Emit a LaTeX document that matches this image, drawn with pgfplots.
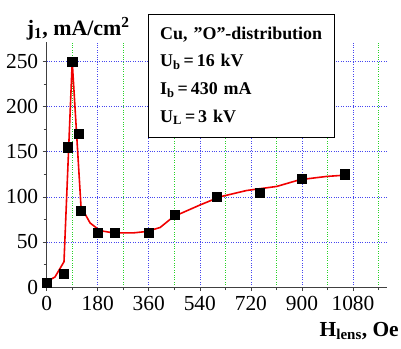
\documentclass[border=0pt]{standalone}
\usepackage{fontspec}
\setmainfont{Liberation Serif}
\usepackage{pgfplots}
\pgfplotsset{compat=1.18}
\definecolor{gridblue}{RGB}{70,70,240}
\definecolor{gridgreen}{RGB}{40,210,40}
\definecolor{curvered}{RGB}{240,0,0}
\begin{document}
\begin{tikzpicture}
\useasboundingbox (-46.7bp,-62bp) rectangle (354.3bp,287bp);
\begin{axis}[
  scale only axis,
  width=340.3bp, height=245.3bp,
  at={(0,0)}, anchor=south west,
  xmin=0, xmax=1200, ymin=0, ymax=272,
  axis lines=left,
  axis line style={-, line width=0.8pt, black!75},
  xtick={0,180,360,540,720,900,1080},
  minor xtick={90,270,450,630,810,990,1170},
  ytick={0,50,100,150,200,250},
  minor ytick={25,75,125,175,225},
  tick align=outside,
  major tick length=4bp, minor tick length=3bp,
  tick style={black!75, line width=0.6pt},
  xmajorgrids, ymajorgrids, xminorgrids,
  major grid style={gridblue, dotted, line width=0.6pt},
  minor x grid style={gridgreen, dotted, line width=0.6pt},
  /pgf/number format/assume math mode=true,
  /pgf/number format/1000 sep={},
  ticklabel style={font=\fontsize{21.5}{21.5}\selectfont},
  yticklabel style={xshift=-1bp},
  xticklabel style={yshift=-2bp},
  clip=false,
]
\addplot[curvered, line width=1.6pt, no marks] coordinates {
 (0,6) (29,11) (61,28) (90,250) (121,89) (153,71) (188,62.5) (235,60)
 (305,60) (352,61.5) (400,66) (447,78) (541,91) (611,100) (705,107)
 (811,111.5) (893,119) (987,122.6) (1051,124)
};
\addplot[only marks, mark=square*, mark size=4.6bp, mark options={fill=black, draw=black}] coordinates {
 (0,5) (60,15) (75,155) (90,250) (112,170) (120,85) (180,60) (240,60)
 (360,60) (450,80) (600,100) (750,105) (900,120) (1050,125)
};
\node[anchor=base west, font=\fontsize{22}{22}\selectfont\bfseries, inner sep=0pt]
  at (axis description cs:-0.0588,1.027) {j\textsubscript{1}, mA/cm\textsuperscript{2}};
\node[anchor=base east, font=\fontsize{21.5}{21.5}\selectfont\bfseries, inner sep=0pt]
  at (axis description cs:1.035,-0.2026) {H\textsubscript{lens}, Oe};
\node[anchor=north west, draw=black, line width=0.8pt, fill=white,
  minimum width=186bp, minimum height=122.4bp, text width=163bp,
  inner xsep=11.5bp, align=left,
  font=\fontsize{18}{27.8}\selectfont\bfseries]
  at (axis description cs:0.2986,1.1117)
  {Cu, \symbol{34}O\symbol{34}-distribution\\
   U\textsubscript{b}\,=\,16 kV\\
   I\textsubscript{b}\,=\,430 mA\\
   U\textsubscript{L}\,=\,3 kV};
\end{axis}
\end{tikzpicture}
\end{document}
